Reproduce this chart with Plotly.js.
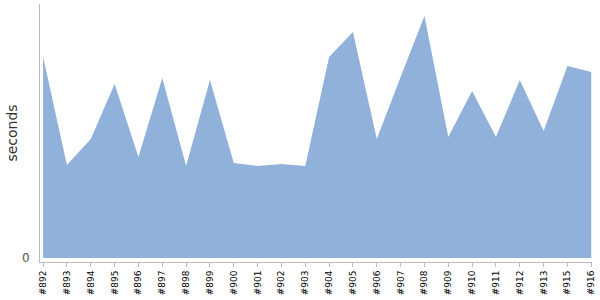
<!DOCTYPE html>
<html>
<head>
<meta charset="utf-8">
<script src="https://cdn.plot.ly/plotly-3.0.1.min.js"></script>
<style>html,body{margin:0;padding:0;background:#fff;}#chart{width:600px;height:300px;}</style>
</head>
<body>
<div id="chart"></div>
<script>
var builds = ["#892","#893","#894","#895","#896","#897","#898","#899","#900","#901","#902","#903","#904","#905","#906","#907","#908","#909","#910","#911","#912","#913","#915","#916"];
var seconds = [201,93,119,174,101,180,92,178,95,92,94,92,201,226,119,181,242,121,167,121,178,127,192,186];

var trace = {
  x: builds,
  y: seconds,
  type: 'scatter',
  mode: 'none',
  fill: 'tozeroy',
  fillcolor: 'rgb(143,177,218)',
  hoverinfo: 'x+y'
};

var layout = {
  width: 600,
  height: 300,
  margin: {l: 40, r: 8, t: 4, b: 38},
  paper_bgcolor: '#fff',
  plot_bgcolor: '#fff',
  showlegend: false,
  xaxis: {
    type: 'category',
    range: [-0.13, 23.03],
    showgrid: false,
    zeroline: false,
    showline: true,
    linecolor: '#bbb',
    linewidth: 1,
    ticks: 'outside',
    ticklen: 4,
    tickcolor: '#bbb',
    tickangle: -90,
    tickfont: {family: 'DejaVu Sans', size: 9, color: '#000'},
    fixedrange: true
  },
  yaxis: {
    range: [-4, 254],
    showgrid: false,
    zeroline: false,
    showline: true,
    linecolor: '#bbb',
    linewidth: 1,
    tickvals: [0],
    ticktext: ['0'],
    ticks: '',
    ticklabelstandoff: 7,
    tickfont: {family: 'DejaVu Sans', size: 12, color: '#555'},
    title: {text: 'seconds', font: {family: 'DejaVu Sans', size: 14, color: '#333'}, standoff: 1},
    fixedrange: true
  }
};

Plotly.newPlot('chart', [trace], layout, {displayModeBar: false, staticPlot: true});
</script>
</body>
</html>
